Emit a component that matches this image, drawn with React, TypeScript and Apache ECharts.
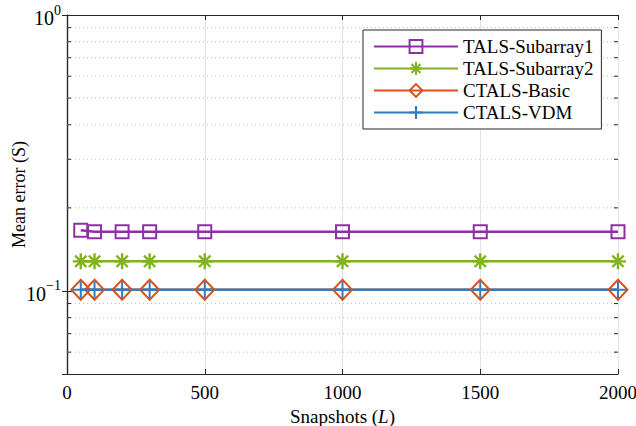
import React, { useEffect, useRef } from 'react';
import * as echarts from 'echarts';

const snapshots = [50, 100, 200, 300, 500, 1000, 1500, 2000];
const talsSubarray1 = [0.166, 0.164, 0.164, 0.164, 0.164, 0.164, 0.164, 0.164];
const talsSubarray2 = [0.128, 0.128, 0.128, 0.128, 0.128, 0.128, 0.128, 0.128];
const ctalsBasic = [0.101, 0.101, 0.101, 0.101, 0.101, 0.101, 0.101, 0.101];
const ctalsVdm = [0.101, 0.101, 0.101, 0.101, 0.101, 0.101, 0.101, 0.101];
const minorYValues = [0.06, 0.07, 0.08, 0.09, 0.2, 0.3, 0.4, 0.5, 0.6, 0.7, 0.8, 0.9];
const seriesNames = ['TALS-Subarray1', 'TALS-Subarray2', 'CTALS-Basic', 'CTALS-VDM'];

const FONT = '"Liberation Serif", "Times New Roman", serif';
const AXIS = '#262626';
const C_PURPLE = '#8E2FA6';
const C_GREEN = '#80B31F';
const C_ORANGE = '#DB5217';
const C_BLUE = '#2F7DC3';

const ASTERISK = 'path://M0,-10L0,10M-10,0L10,0M-7.07,-7.07L7.07,7.07M-7.07,7.07L7.07,-7.07';
const PLUS = 'path://M0,-10L0,10M-10,0L10,0';

function pairs(vals: number[]) {
  return snapshots.map((x, i) => [x, vals[i]]);
}

export default function App() {
  const ref = useRef<HTMLDivElement>(null);
  useEffect(() => {
    if (!ref.current) return;
    const chart = echarts.init(ref.current, undefined, { renderer: 'svg' });
    const lineSeries = (name: string, data: number[], color: string, symbol: string, size: any, bw: number) => ({
      name,
      type: 'line',
      data: pairs(data),
      symbol,
      symbolSize: size,
      showAllSymbol: true,
      color,
      lineStyle: { color, width: 2.5 },
      itemStyle: { color: 'none', borderColor: color, borderWidth: bw },
      z: 3,
      clip: false,
    });
    chart.setOption({
      animation: false,
      grid: { left: 67, right: 18, top: 15, bottom: 52, containLabel: false, outerBoundsMode: 'none' },
      legend: {
        data: seriesNames,
        orient: 'vertical',
        left: 363,
        top: 30,
        padding: [7, 8, 7, 10],
        itemWidth: 84,
        itemHeight: 16,
        itemGap: 3,
        backgroundColor: '#fff',
        borderColor: AXIS,
        borderWidth: 1,
        borderRadius: 0,
        textStyle: { fontFamily: FONT, fontSize: 19, color: '#000', lineHeight: 19 },
      },
      xAxis: [
        {
          type: 'value',
          min: 0,
          max: 2000,
          interval: 500,
          position: 'bottom',
          name: '{n|Snapshots (}{i|L}{n|)}',
          nameLocation: 'middle',
          nameGap: 33,
          nameMoveOverlap: false,
          nameTextStyle: {
            rich: {
              n: { fontFamily: FONT, fontSize: 19, color: '#000' },
              i: { fontFamily: FONT, fontSize: 19, fontStyle: 'italic', color: '#000' },
            },
          },
          axisLine: { show: true, lineStyle: { color: AXIS, width: 1.2 } },
          axisTick: { show: true, inside: true, length: 5, lineStyle: { color: AXIS } },
          axisLabel: { fontFamily: FONT, fontSize: 19, color: '#000', margin: 9, formatter: (v: number) => String(v) },
          splitLine: { show: true, lineStyle: { color: '#e3e3e3', width: 1 } },
        },
        {
          type: 'value',
          min: 0,
          max: 2000,
          interval: 500,
          position: 'top',
          axisLine: { show: true, lineStyle: { color: AXIS, width: 1.2 } },
          axisTick: { show: true, inside: true, length: 5, lineStyle: { color: AXIS } },
          axisLabel: { show: false },
          splitLine: { show: false },
        },
      ],
      yAxis: [
        {
          type: 'log',
          logBase: 10,
          min: 0.05,
          max: 1,
          position: 'left',
          name: 'Mean error (S)',
          nameLocation: 'middle',
          nameGap: 39,
          nameMoveOverlap: false,
          nameTextStyle: { fontFamily: FONT, fontSize: 18, color: '#000' },
          axisLine: { show: true, lineStyle: { color: AXIS, width: 1.2 } },
          axisTick: { show: true, inside: true, length: 5, lineStyle: { color: AXIS } },
          axisLabel: {
            margin: 6,
            formatter: (v: number) => {
              const e = Math.log10(v);
              if (Math.abs(e - Math.round(e)) > 1e-6) return '';
              const r = Math.round(e);
              return '{b|10}{s|' + (r < 0 ? '\u2212' + -r : String(r)) + '}';
            },
            rich: {
              b: { fontFamily: FONT, fontSize: 20, color: '#000', lineHeight: 24, padding: [6, 0, 0, 0] },
              s: { fontFamily: FONT, fontSize: 14, color: '#000', verticalAlign: 'top', lineHeight: 16 },
            },
          },
          splitLine: { show: false },
        },
        {
          type: 'log',
          logBase: 10,
          min: 0.05,
          max: 1,
          position: 'right',
          axisLine: { show: true, lineStyle: { color: AXIS, width: 1.2 } },
          axisTick: { show: true, inside: true, length: 5, lineStyle: { color: AXIS } },
          axisLabel: { show: false },
          splitLine: { show: false },
        },
      ],
      series: [
        {
          type: 'custom',
          name: 'minorGrid',
          silent: true,
          z: 1,
          clip: false,
          data: minorYValues.map((v) => [0, v]),
          renderItem: (params: any, api: any) => {
            const cs = params.coordSys;
            const y = api.coord([0, api.value(1)])[1];
            const x0 = cs.x;
            const x1 = cs.x + cs.width;
            return {
              type: 'group',
              children: [
                {
                  type: 'line',
                  shape: { x1: x0, y1: y, x2: x1, y2: y },
                  style: { stroke: '#bdbdbd', lineWidth: 1, lineDash: [1, 3] },
                },
                {
                  type: 'line',
                  shape: { x1: x0, y1: y, x2: x0 + 4, y2: y },
                  style: { stroke: AXIS, lineWidth: 1 },
                },
                {
                  type: 'line',
                  shape: { x1: x1 - 4, y1: y, x2: x1, y2: y },
                  style: { stroke: AXIS, lineWidth: 1 },
                },
              ],
            };
          },
        },
        lineSeries(seriesNames[0], talsSubarray1, C_PURPLE, 'rect', 13, 2),
        lineSeries(seriesNames[1], talsSubarray2, C_GREEN, ASTERISK, 16, 2.4),
        lineSeries(seriesNames[2], ctalsBasic, C_ORANGE, 'diamond', [19, 20], 2),
        lineSeries(seriesNames[3], ctalsVdm, C_BLUE, PLUS, 17, 2),
      ],
    });
    return () => chart.dispose();
  }, []);
  return <div ref={ref} style={{ width: 636, height: 426, position: 'absolute', left: 0, top: 0, background: '#fff' }} />;
}
